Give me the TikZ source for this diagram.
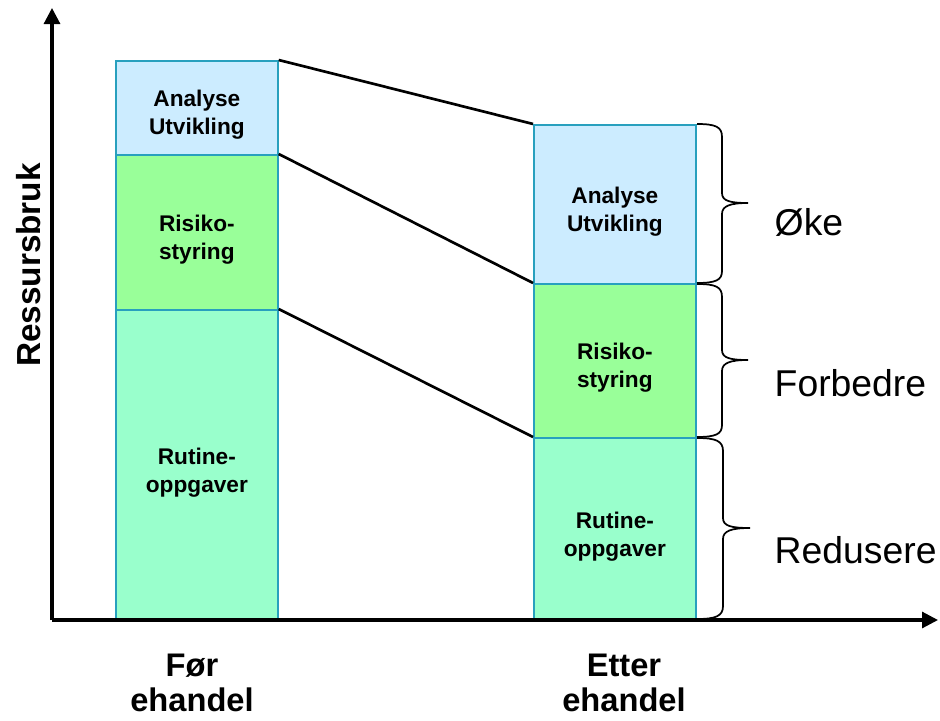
\documentclass[tikz,border=0pt]{standalone}
\usepackage{fontspec}
\setmainfont{Liberation Sans}
\usetikzlibrary{arrows.meta}
\definecolor{bordc}{RGB}{40,160,190}
\definecolor{cblue}{RGB}{204,236,255}
\definecolor{cgreen}{RGB}{153,255,153}
\definecolor{cmint}{RGB}{153,255,204}
\begin{document}
\begin{tikzpicture}[x=0.75pt,y=-0.75pt,
  seg/.style={draw=bordc, line width=1.3pt, anchor=north west, inner sep=0pt,
    minimum width=121.5pt, align=center,
    font=\fontsize{17pt}{21pt}\selectfont\bfseries},
  conn/.style={line width=2pt, black},
  axis/.style={line width=2.3pt, -{Triangle[length=12pt,width=12pt]}},
  bracec/.style={line width=1.3pt, black},
  effect/.style={font=\fontsize{28pt}{30pt}\selectfont, anchor=west},
  xlab/.style={font=\fontsize{24.5pt}{26pt}\selectfont\bfseries, align=center}
]
\useasboundingbox (0,0) rectangle (940,721);

% bars, left
\node[seg, fill=cblue,  minimum height=70.5pt]   (la) at (115,60)  {\\[2pt]Analyse\\Utvikling};
\node[seg, fill=cgreen, minimum height=116.25pt] (lb) at (115,154) {\\[2pt]Risiko-\\styring};
\node[seg, fill=cmint,  minimum height=233.25pt] (lc) at (115,309) {\\[2pt]Rutine-\\oppgaver};
% bars, right
\node[seg, fill=cblue,  minimum height=119.25pt] (ra) at (533,124) {\\[2pt]Analyse\\Utvikling};
\node[seg, fill=cgreen, minimum height=115.5pt]  (rb) at (533,283) {\\[2pt]Risiko-\\styring};
\node[seg, fill=cmint,  minimum height=137.25pt] (rc) at (533,437) {\\[2pt]Rutine-\\oppgaver};

% axes
\coordinate (o) at (52,620);
\coordinate (ytop) at (52,8);
\coordinate (xend) at (938,620);
\draw[axis] (o) -- (ytop);
\draw[axis] (o) -- (xend);

% connectors
\draw[conn] (la.north east) -- (ra.north west);
\draw[conn] (lb.north east) -- (rb.north west);
\draw[conn] (lc.north east) -- (rc.north west);

% braces
\draw[bracec] (697,124) .. controls (716,124) and (722,127) .. (722,137) -- (722,193)
  .. controls (722,201) and (730,203) .. (748,203)
  .. controls (730,203) and (722,206) .. (722,214) -- (722,271)
  .. controls (722,280) and (716,283) .. (697,283);
\draw[bracec] (697,284) .. controls (716,284) and (722,287) .. (722,297) -- (722,350)
  .. controls (722,358) and (730,360) .. (748,360)
  .. controls (730,360) and (722,363) .. (722,371) -- (722,425)
  .. controls (722,434) and (716,437) .. (697,437);
\draw[bracec] (697,438) .. controls (716,438) and (723,441) .. (723,451) -- (723,518)
  .. controls (723,526) and (731,528) .. (750,528)
  .. controls (731,528) and (723,531) .. (723,539) -- (723,606)
  .. controls (723,616) and (716,619) .. (697,619);

% effect labels
\node[effect] (e1) at (770,222) {Øke};
\node[effect] (e2) at (770,383) {Forbedre};
\node[effect] (e3) at (770,550) {Redusere};

% axis labels
\node[font=\fontsize{25pt}{26pt}\selectfont\bfseries, rotate=90] (yl) at (29,265) {Ressursbruk};
\node[xlab] (x1) at (192,683) {Før\\ehandel};
\node[xlab] (x2) at (624,683) {Etter\\ehandel};
\end{tikzpicture}
\end{document}
